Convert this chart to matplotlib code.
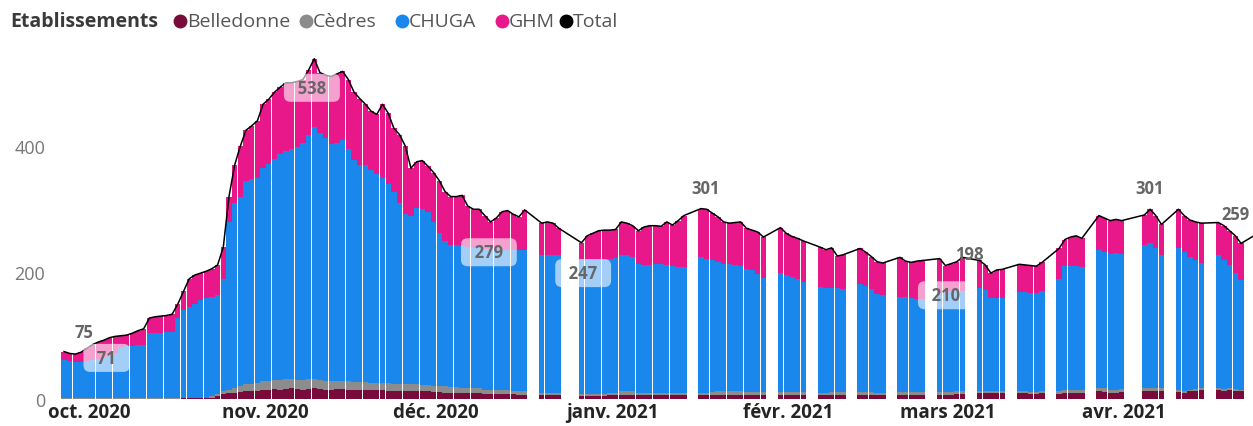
import numpy as np
import pandas as pd
import matplotlib
matplotlib.use("Agg")
import matplotlib.pyplot as plt
from matplotlib.lines import Line2D
import matplotlib.dates as mdates

plt.rcParams["font.family"] = ["Open Sans", "DejaVu Sans"]

# ============================================
# Data (daily, from 2020-09-28, N = no data that day)
# ============================================

N = None
START = "2020-09-28"

belledonne = [
    0, 0, 0, 0, 0, 0, 0,
    0, 0, 0, 0, 0, 0, 0,
    0, 0, 0, 0, 0, 0, 0,
    1, 1, 1, 1, 1, 2, 5,
    8, 9, 10, 11, 12, 12, 13,
    14, 15, 16, 15, 16, 17, 16,
    15, 16, 17, 16, 15, 15, 16,
    16, 15, 14, 15, 15, 14, 14,
    14, 13, 13, 13, 12, 12, 12,
    12, 12, 11, 11, 10, 10, 10,
    9, 9, 9, 9, 8, 8, 8,
    8, 8, 8, 7, 7, N, N,
    6, 6, 6, 6, N, N, N,
    5, 5, 5, 5, 5, 6, 6,
    7, 7, 7, 6, 6, 6, 6,
    6, 6, 6, 6, 6, N, N,
    6, 6, 7, 7, 7, 7, 7,
    7, 7, 7, 7, 7, N, N,
    7, 7, 7, 7, 7, N, N,
    6, 6, 7, 7, 7, N, N,
    6, 6, 6, 6, 6, N, N,
    7, 7, 7, 7, 7, N, N,
    7, 7, 7, 8, 8, N, N,
    10, 10, 10, 10, 10, N, N,
    9, 9, 8, 8, 9, N, N,
    8, 10, 10, 10, 10, N, N,
    12, 11, 10, 10, 11, N, N,
    N, 12, 12, 12, 12, N, N,
    11, 10, 12, 13, 14, N, N,
    14, 13, 14, 13, 12, N, N,
    12,
]

cedres = [
    1, 1, 1, 1, 1, 1, 1,
    1, 1, 1, 1, 1, 1, 1,
    1, 1, 1, 1, 1, 1, 1,
    1, 1, 1, 1, 1, 2, 3,
    4, 6, 8, 10, 11, 12, 13,
    14, 14, 14, 15, 15, 14, 14,
    15, 15, 14, 14, 14, 13, 13,
    13, 13, 13, 12, 12, 12, 12,
    12, 12, 11, 11, 11, 11, 11,
    10, 10, 10, 10, 10, 9, 9,
    9, 8, 8, 8, 7, 7, 7,
    6, 6, 5, 5, 5, N, N,
    4, 4, 3, 3, N, N, N,
    3, 3, 3, 3, 3, 4, 4,
    5, 5, 5, 4, 4, 4, 4,
    4, 4, 4, 4, 3, N, N,
    3, 4, 4, 5, 5, 5, 5,
    5, 4, 4, 4, 4, N, N,
    4, 4, 4, 4, 4, N, N,
    4, 4, 4, 4, 4, N, N,
    5, 5, 5, 4, 4, N, N,
    4, 4, 4, 4, 4, N, N,
    4, 4, 4, 4, 4, N, N,
    3, 3, 3, 3, 3, N, N,
    3, 3, 3, 3, 3, N, N,
    4, 5, 5, 5, 5, N, N,
    6, 6, 5, 5, 5, N, N,
    N, 6, 6, 6, 6, N, N,
    4, 3, 3, 3, 3, N, N,
    3, 3, 3, 3, 3, N, N,
    3,
]

chuga = [
    60, 59, 58, 58, 59, 61, 63,
    65, 69, 71, 81, 83, 83, 84,
    85, 103, 104, 104, 105, 105, 127,
    138, 143, 148, 154, 158, 157, 157,
    178, 265, 292, 299, 322, 324, 324,
    337, 343, 350, 358, 361, 364, 368,
    375, 387, 399, 390, 383, 375, 375,
    381, 367, 351, 343, 343, 336, 329,
    324, 315, 304, 286, 269, 267, 279,
    278, 273, 259, 241, 230, 224, 224,
    224, 223, 221, 221, 222, 221, 221,
    222, 222, 223, 223, 223, N, N,
    217, 217, 218, 218, N, N, N,
    213, 213, 214, 214, 214, 212, 213,
    216, 216, 213, 203, 202, 202, 203,
    203, 202, 200, 198, 199, N, N,
    215, 212, 209, 204, 201, 201, 200,
    198, 195, 193, 186, 181, N, N,
    189, 185, 182, 179, 174, N, N,
    167, 166, 165, 164, 163, N, N,
    171, 167, 163, 156, 154, N, N,
    151, 151, 149, 147, 147, N, N,
    155, 157, 159, 158, 158, N, N,
    162, 160, 147, 146, 146, N, N,
    157, 157, 157, 157, 158, N, N,
    178, 195, 196, 196, 193, N, N,
    217, 215, 215, 216, 214, N, N,
    N, 225, 228, 220, 210, N, N,
    223, 219, 210, 204, 198, N, N,
    210, 204, 195, 184, 173, N, N,
    190,
]

ghm = [
    14, 12, 12, 15, 20, 24, 26,
    27, 27, 27, 18, 17, 20, 23,
    25, 24, 25, 26, 26, 28, 22,
    30, 45, 46, 43, 42, 45, 47,
    50, 40, 60, 80, 80, 84, 90,
    101, 102, 105, 105, 108, 105, 104,
    100, 102, 108, 96, 100, 107, 110,
    108, 110, 107, 105, 96, 93, 95,
    116, 112, 100, 108, 108, 75, 73,
    77, 73, 78, 83, 78, 77, 77,
    80, 65, 62, 62, 53, 44, 50,
    60, 62, 56, 53, 64, N, N,
    51, 53, 51, 43, N, N, N,
    26, 37, 40, 44, 45, 45, 45,
    52, 50, 49, 53, 60, 62, 61,
    60, 68, 65, 74, 82, N, N,
    77, 78, 74, 72, 67, 65, 67,
    70, 64, 63, 67, 64, N, N,
    71, 66, 64, 64, 65, N, N,
    63, 60, 63, 51, 54, N, N,
    56, 54, 51, 51, 51, N, N,
    62, 56, 56, 60, 61, N, N,
    56, 43, 44, 47, 54, N, N,
    44, 39, 39, 45, 46, N, N,
    44, 43, 43, 42, 46, N, N,
    48, 42, 45, 47, 46, N, N,
    55, 54, 52, 53, 52, N, N,
    N, 48, 54, 52, 48, N, N,
    62, 58, 58, 60, 63, N, N,
    52, 54, 54, 58, 58, N, N,
    57,
]

series_names = ["Belledonne", "Cèdres", "CHUGA", "GHM"]
month_labels = ["oct. 2020", "nov. 2020", "déc. 2020", "janv. 2021",
                "févr. 2021", "mars 2021", "avr. 2021"]

# data labels as Power BI placed them: text, anchor date, height
label_texts = ["75", "71", "538", "279", "247", "301", "210", "198", "301", "259"]
label_dates = ["2020-10-01 12:00", "2020-10-05 12:00", "2020-11-10 14:00",
               "2020-12-11 17:00", "2020-12-28 07:00", "2021-01-18 22:00",
               "2021-03-02 02:00", "2021-03-06 07:00", "2021-04-07 00:00",
               "2021-04-22 02:00"]
label_heights = [106, 65, 492, 232, 199, 333, 164, 229, 333, 292]
label_boxed = [False, True, True, True, True, False, True, False, False, False]

# ============================================
# Style
# ============================================

COLORS = ["#790B3A", "#8C8C8C", "#1A87EC", "#E8178A"]
W, H = 1253, 427

days = pd.date_range(START, periods=len(belledonne), freq="D")
xnum = mdates.date2num(days)
vals = [np.array(s, dtype=float) for s in (belledonne, cedres, chuga, ghm)]
valid = ~np.isnan(vals[0])
total = vals[0] + vals[1] + vals[2] + vals[3]

fig = plt.figure(figsize=(W / 100, H / 100), dpi=100)
ax = fig.add_axes([48 / W, (H - 400) / H, (W - 48) / W, 355 / H])

bottom = np.zeros(valid.sum())
for v, c in zip(vals, COLORS):
    ax.bar(xnum[valid], v[valid], bottom=bottom, width=0.94, color=c,
           linewidth=0, zorder=2)
    bottom = bottom + v[valid]

ax.plot(xnum[valid], total[valid], color="black", lw=1.1, zorder=3)

for txt, d, yv, boxed in zip(label_texts, label_dates, label_heights, label_boxed):
    kw = {}
    shown = txt
    if boxed:
        kw["bbox"] = dict(boxstyle="round,pad=0.3,rounding_size=0.4",
                          fc="white", ec="none", alpha=0.6)
        shown = "  " + txt + "  "
    ax.text(mdates.date2num(pd.Timestamp(d)), yv, shown, ha="center",
            va="center", fontsize=12, fontweight="bold", color="#666666",
            zorder=4, **kw)

x0 = xnum[0]
ax.set_xlim(x0 - 2.83, x0 + 209.1)
ax.set_ylim(0, 355 / 0.6325)

ax.set_yticks([0, 200, 400])
ax.set_yticklabels(["0", "200", "400"], fontsize=13, color="#777777")

# Power BI centres the month names a little after the 1st
month_starts = pd.date_range("2020-10-01", "2021-04-01", freq="MS")
ax.set_xticks(mdates.date2num(month_starts) + 1.4)
ax.set_xticklabels(month_labels, fontsize=13.5, fontweight="bold",
                   color="#252423")

ax.tick_params(length=0)
ax.tick_params(axis="x", pad=2)
ax.tick_params(axis="y", pad=2)
for sp in ax.spines.values():
    sp.set_visible(False)

# legend drawn by hand, along the top
ly = 1 - 22 / H
fig.text(10 / W, ly, "Etablissements", fontsize=14, fontweight="bold",
         color="#3A3A3A", va="center")
legend_x = [180, 306, 402, 502, 566]
for name, c, lx in zip(series_names + ["Total"], COLORS + ["#000000"], legend_x):
    fig.add_artist(Line2D([lx / W], [ly], marker="o", markersize=9,
                          color=c, linestyle="none", transform=fig.transFigure))
    fig.text((lx + 7) / W, ly, name, fontsize=14, color="#555555", va="center")

fig.savefig("out.png", dpi=100)
